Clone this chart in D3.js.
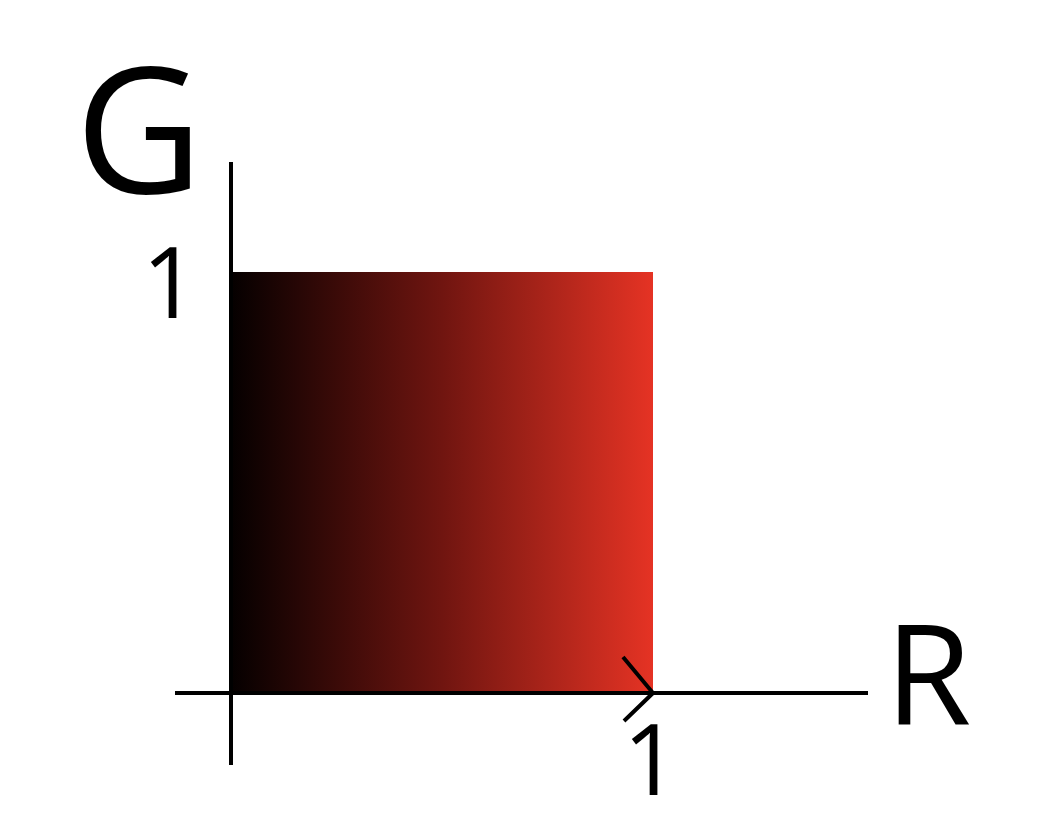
<!DOCTYPE html>
<html><head><meta charset="utf-8">
<script src="https://cdn.jsdelivr.net/npm/d3@7"></script>
<style>body{margin:0;background:#fff}</style>
</head><body>
<script>
// gradient stops: R value -> colour (G = 0, B = 0)
var stopOffsets = [0, 0.5, 1];
var stopColors = ["#050000", "#701510", "#e53324"];
var domainMax = 1.26;
var tickValues = [1];

var svg = d3.select("body").append("svg").attr("width", 1046).attr("height", 834);
var x = d3.scaleLinear().domain([0, 1]).range([231, 653]);
var y = d3.scaleLinear().domain([0, 1]).range([693, 272]);

var grad = svg.append("defs").append("linearGradient").attr("id", "g");
grad.selectAll("stop").data(stopOffsets).enter().append("stop")
    .attr("offset", d => d).attr("stop-color", (d, i) => stopColors[i]);

svg.append("rect").attr("x", x(0)).attr("y", y(1))
    .attr("width", x(1) - x(0)).attr("height", y(0) - y(1)).attr("fill", "url(#g)");

var axis = {stroke: "#000", "stroke-width": 4};
svg.append("line").attr("x1", 175).attr("x2", 868).attr("y1", y(0)).attr("y2", y(0))
    .attr("stroke", "#000").attr("stroke-width", 4);
svg.append("line").attr("x1", x(0)).attr("x2", x(0)).attr("y1", 162).attr("y2", 765)
    .attr("stroke", "#000").attr("stroke-width", 4);

// tick mark at R = 1
svg.append("path")
    .attr("d", `M${x(1) - 30},${y(0) - 36} L${x(1)},${y(0)} L${x(1) - 29},${y(0) + 28}`)
    .attr("fill", "none").attr("stroke", "#000").attr("stroke-width", 4);

var font = "'Open Sans', 'DejaVu Sans', sans-serif";
svg.selectAll(".xt").data(tickValues).enter().append("text")
    .attr("x", d => x(d) - 2).attr("y", 795).attr("text-anchor", "middle")
    .attr("font-family", font).attr("font-size", 98).text(d => d);
svg.selectAll(".yt").data(tickValues).enter().append("text")
    .attr("x", 198).attr("y", d => y(d) + 46).attr("text-anchor", "end")
    .attr("font-family", font).attr("font-size", 98).text(d => d);

svg.append("text").attr("x", 75).attr("y", 193).attr("font-family", font)
    .attr("font-size", 176).text("G");
svg.append("text").attr("x", 885).attr("y", 725).attr("font-family", font)
    .attr("font-size", 140).text("R");
</script>
</body></html>
